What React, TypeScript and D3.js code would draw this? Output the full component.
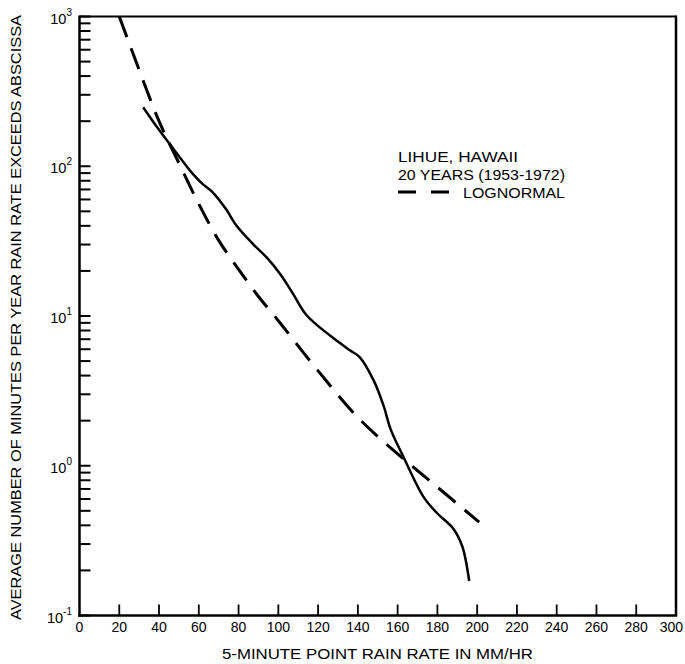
import React from "react";
import * as d3 from "d3";

const W = 685;
const H = 664;

const xTicks = [0, 20, 40, 60, 80, 100, 120, 140, 160, 180, 200, 220, 240, 260, 280, 300];
const yDecades = [-1, 0, 1, 2, 3];

// measured (solid) curve: [rain rate mm/hr, minutes per year]
const measuredX = [32, 40, 48.5, 57, 62, 67, 74, 79, 87.5, 94, 101, 107.5, 114, 126, 136, 141, 148, 153, 156.5, 163, 173, 180, 188, 192.5, 196];
const measuredY = [248, 175, 124, 89, 76, 67, 51, 40, 30, 24.7, 19, 14, 10.2, 7.4, 5.9, 5.3, 3.7, 2.5, 1.75, 1.14, 0.62, 0.48, 0.38, 0.29, 0.17];

// lognormal (dashed) curve
const lognX = [20, 30, 40, 50, 60, 70, 80, 90, 100, 120, 140, 160, 180, 201];
const lognY = [1000, 440, 200, 105, 56, 32, 20.5, 13.5, 9.3, 4.3, 2.1, 1.2, 0.72, 0.42];

const legendLines = ["LIHUE, HAWAII", "20 YEARS (1953-1972)"];
const legendSeries = "LOGNORMAL";
const xLabel = "5-MINUTE POINT RAIN RATE IN MM/HR";
const yLabel = "AVERAGE NUMBER OF MINUTES PER YEAR RAIN RATE EXCEEDS ABSCISSA";

const FONT = "'Liberation Sans', Arial, Helvetica, sans-serif";

export default function App() {
  const left = 79.5, right = 676, top = 16.5, bottom = 615.5;
  const x = d3.scaleLinear().domain([0, 300]).range([left, right]);
  const y = d3.scaleLog().domain([0.1, 1000]).range([bottom, top]);

  const line = d3
    .line<[number, number]>()
    .x((d) => x(d[0]))
    .y((d) => y(d[1]))
    .curve(d3.curveCatmullRom.alpha(0.5));

  const measured = measuredX.map((v, i) => [v, measuredY[i]] as [number, number]);
  const logn = lognX.map((v, i) => [v, lognY[i]] as [number, number]);

  const minorTicks: number[] = [];
  yDecades.forEach((e) => {
    if (e >= 3) return;
    for (let k = 2; k <= 9; k++) minorTicks.push(k * Math.pow(10, e));
  });
  const majorTicks = yDecades.map((e) => Math.pow(10, e));

  return (
    <svg
      width={W}
      height={H}
      style={{ position: "absolute", left: 0, top: 0, background: "#fff" }}
      fontFamily={FONT}
    >
      <rect x={0} y={0} width={W} height={H} fill="#fff" />
      {/* frame */}
      <line x1={left} x2={right} y1={top} y2={top} stroke="#000" strokeWidth={2} />
      <line x1={right} x2={right} y1={top - 1} y2={bottom} stroke="#000" strokeWidth={2.5} />
      <line x1={left} x2={left} y1={top - 1} y2={bottom + 1.2} stroke="#000" strokeWidth={2.5} />
      <line x1={left - 1.2} x2={right + 1.2} y1={bottom} y2={bottom} stroke="#000" strokeWidth={2.5} />

      {/* y ticks */}
      {[...majorTicks, ...minorTicks].map((t, i) => (
        <line key={"yt" + i} x1={left} x2={left + 11} y1={y(t)} y2={y(t)} stroke="#000" strokeWidth={2} />
      ))}
      {yDecades.map((e) => (
        <text key={"yl" + e} x={72} y={y(Math.pow(10, e)) + 7} textAnchor="end" fontSize={14.5} fill="#000">
          10
          <tspan dy={-8} fontSize={10}>
            {String(e)}
          </tspan>
        </text>
      ))}

      {/* x ticks */}
      {xTicks.map((t) =>
        t > 0 && t < 300 ? (
          <line key={"xt" + t} x1={x(t)} x2={x(t)} y1={bottom} y2={bottom - 11} stroke="#000" strokeWidth={1.8} />
        ) : null
      )}
      {xTicks.map((t) => (
        <text
          key={"xl" + t}
          x={t === 300 ? 683 : x(t)}
          y={632}
          textAnchor={t === 300 ? "end" : "middle"}
          fontSize={14}
          fill="#000"
        >
          {t}
        </text>
      ))}

      {/* curves */}
      <path d={line(logn) || ""} fill="none" stroke="#000" strokeWidth={3} strokeDasharray="22,12" />
      <path d={line(measured) || ""} fill="none" stroke="#000" strokeWidth={2.5} strokeLinejoin="round" />

      {/* legend */}
      <text x={398} y={162} fontSize={14} textLength={120} lengthAdjust="spacingAndGlyphs" fill="#000">
        {legendLines[0]}
      </text>
      <text x={398} y={180} fontSize={14} textLength={167} lengthAdjust="spacingAndGlyphs" fill="#000">
        {legendLines[1]}
      </text>
      <line x1={398} x2={449} y1={192} y2={192} stroke="#000" strokeWidth={3} strokeDasharray="18,15" />
      <text x={463} y={198} fontSize={14} textLength={102} lengthAdjust="spacingAndGlyphs" fill="#000">
        {legendSeries}
      </text>

      {/* axis labels */}
      <text x={377.5} y={659} textAnchor="middle" fontSize={15} textLength={311} lengthAdjust="spacingAndGlyphs" fill="#000">
        {xLabel}
      </text>
      <text
        transform={`translate(20.5, 317.5) rotate(-90)`}
        textAnchor="middle"
        fontSize={15}
        textLength={605}
        lengthAdjust="spacingAndGlyphs"
        fill="#000"
      >
        {yLabel}
      </text>
    </svg>
  );
}
